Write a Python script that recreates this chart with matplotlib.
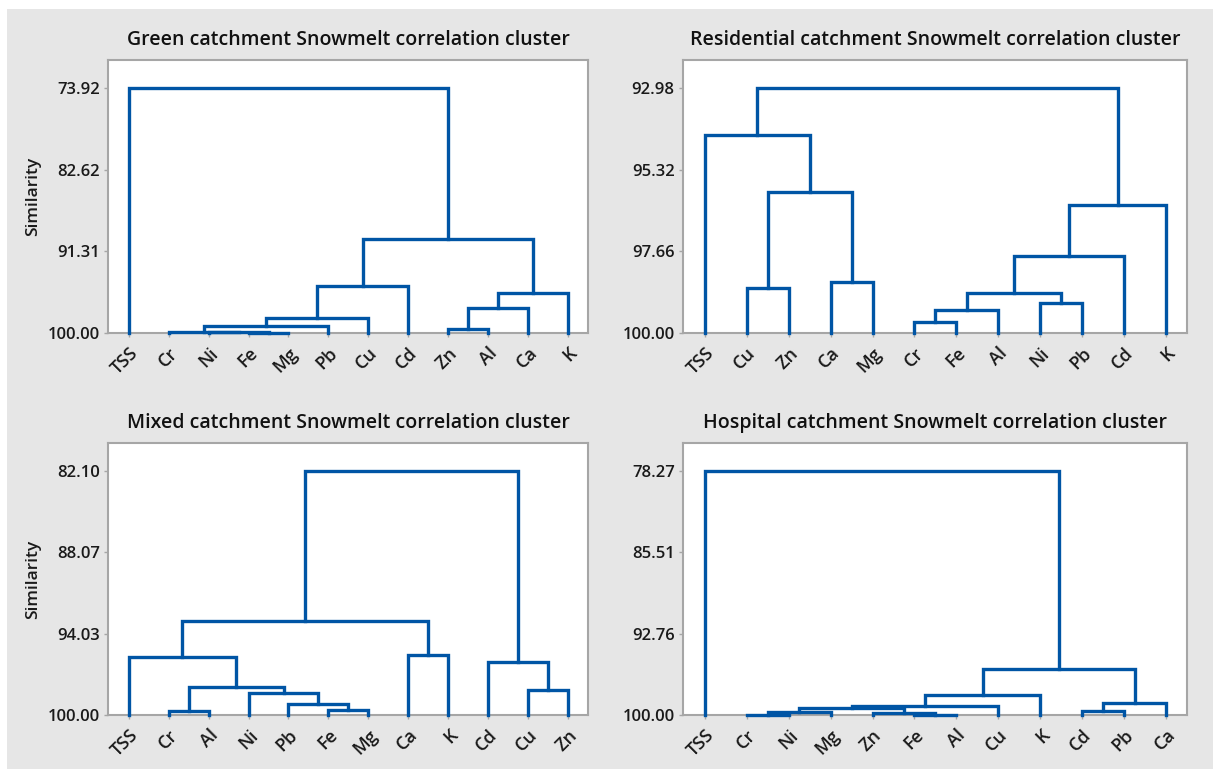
import matplotlib
matplotlib.use("Agg")
import matplotlib.pyplot as plt
from matplotlib.patches import Rectangle

plt.rcParams['font.family'] = ['Open Sans', 'DejaVu Sans']

# ---- data: leaf order, merges (left, right, similarity), y tick labels ----
# merges: a str is a leaf, an int is the index of an earlier merge
green_leaves = ['TSS', 'Cr', 'Ni', 'Fe', 'Mg', 'Pb', 'Cu', 'Cd', 'Zn', 'Al', 'Ca', 'K']
green_merges = [('Fe', 'Mg', 99.96), ('Ni', 0, 99.92), ('Cr', 1, 99.88),
                (2, 'Pb', 99.29), (3, 'Cu', 98.38), (4, 'Cd', 94.97),
                ('Zn', 'Al', 99.58), (6, 'Ca', 97.30), (7, 'K', 95.75),
                (5, 8, 90.01), ('TSS', 9, 73.92)]
green_ticks = ['73.92', '82.62', '91.31', '100.00']

resid_leaves = ['TSS', 'Cu', 'Zn', 'Ca', 'Mg', 'Cr', 'Fe', 'Al', 'Ni', 'Pb', 'Cd', 'K']
resid_merges = [('Cu', 'Zn', 98.71), ('Ca', 'Mg', 98.53), (0, 1, 95.97),
                ('TSS', 2, 94.33), ('Cr', 'Fe', 99.69), (4, 'Al', 99.33),
                ('Ni', 'Pb', 99.14), (5, 6, 98.84), (7, 'Cd', 97.79),
                (8, 'K', 96.33), (3, 9, 92.98)]
resid_ticks = ['92.98', '95.32', '97.66', '100.00']

mixed_leaves = ['TSS', 'Cr', 'Al', 'Ni', 'Pb', 'Fe', 'Mg', 'Ca', 'K', 'Cd', 'Cu', 'Zn']
mixed_merges = [('Cr', 'Al', 99.71), ('Fe', 'Mg', 99.61), ('Pb', 1, 99.22),
                ('Ni', 2, 98.42), (0, 3, 97.93), ('TSS', 4, 95.74),
                ('Ca', 'K', 95.62), (5, 6, 93.07), ('Cu', 'Zn', 98.13),
                ('Cd', 8, 96.11), (7, 9, 82.10)]
mixed_ticks = ['82.10', '88.07', '94.03', '100.00']

hosp_leaves = ['TSS', 'Cr', 'Ni', 'Mg', 'Zn', 'Fe', 'Al', 'Cu', 'K', 'Cd', 'Pb', 'Ca']
hosp_merges = [('Cr', 'Ni', 99.96), (0, 'Mg', 99.70), ('Fe', 'Al', 99.97),
               ('Zn', 2, 99.79), (1, 3, 99.41), (4, 'Cu', 99.20),
               (5, 'K', 98.22), ('Cd', 'Pb', 99.64), (7, 'Ca', 98.96),
               (6, 8, 95.86), ('TSS', 9, 78.27)]
hosp_ticks = ['78.27', '85.51', '92.76', '100.00']

titles = ['Green catchment Snowmelt correlation cluster',
          'Residential catchment Snowmelt correlation cluster',
          'Mixed catchment Snowmelt correlation cluster',
          'Hospital catchment Snowmelt correlation cluster']

BLUE = '#0055a5'
GRID = '#a6a6a6'


def draw_dendro(ax, leaves, merges, ticks, title, ylabel):
    pos = {name: (i, 100.0) for i, name in enumerate(leaves)}
    nodes = []
    for a, b, s in merges:
        xa, ya = pos[a] if isinstance(a, str) else nodes[a]
        xb, yb = pos[b] if isinstance(b, str) else nodes[b]
        ax.plot([xa, xa, xb, xb], [ya, s, s, yb], color=BLUE, lw=2.4,
                solid_joinstyle='miter', clip_on=False, zorder=3)
        nodes.append(((xa + xb) / 2, s))

    vals = [float(t) for t in ticks]
    lo = vals[0]
    ax.set_ylim(100, lo - 0.115 * (100 - lo))
    ax.set_yticks(vals)
    ax.set_yticklabels(ticks, fontweight='semibold', fontsize=12)
    ax.set_xlim(-0.52, len(leaves) - 0.5)
    ax.set_xticks(range(len(leaves)))
    ax.set_xticklabels(leaves, rotation=45, ha='right', rotation_mode='anchor',
                       fontweight='semibold', fontsize=13)
    ax.tick_params(axis='both', colors=GRID, labelcolor='#1a1a1a', length=3,
                   width=1, pad=3)
    ax.tick_params(axis='x', pad=5)
    for sp in ax.spines.values():
        sp.set_color(GRID)
        sp.set_linewidth(1.5)
    ax.set_title(title, fontsize=14, fontweight='semibold', pad=11, color='#111111')
    if ylabel:
        ax.set_ylabel('Similarity', fontsize=12.5, fontweight='semibold', color='#1a1a1a')
        ax.yaxis.set_label_coords(-0.14, 0.5)


fig = plt.figure(figsize=(12.13, 7.69), dpi=100, facecolor='white')
fig.patches.append(Rectangle((7 / 1213, 0), 1, 1 - 9 / 769, transform=fig.transFigure,
                             facecolor='#e6e6e6', edgecolor='none', zorder=-10))

ax1 = fig.add_axes([108 / 1213, 1 - 333 / 769, 480 / 1213, 273 / 769])
ax2 = fig.add_axes([683 / 1213, 1 - 333 / 769, 504 / 1213, 273 / 769])
ax3 = fig.add_axes([108 / 1213, 1 - 715 / 769, 480 / 1213, 272 / 769])
ax4 = fig.add_axes([683 / 1213, 1 - 715 / 769, 504 / 1213, 272 / 769])

draw_dendro(ax1, green_leaves, green_merges, green_ticks, titles[0], True)
draw_dendro(ax2, resid_leaves, resid_merges, resid_ticks, titles[1], False)
draw_dendro(ax3, mixed_leaves, mixed_merges, mixed_ticks, titles[2], True)
draw_dendro(ax4, hosp_leaves, hosp_merges, hosp_ticks, titles[3], False)

fig.savefig('out.png', dpi=100)
